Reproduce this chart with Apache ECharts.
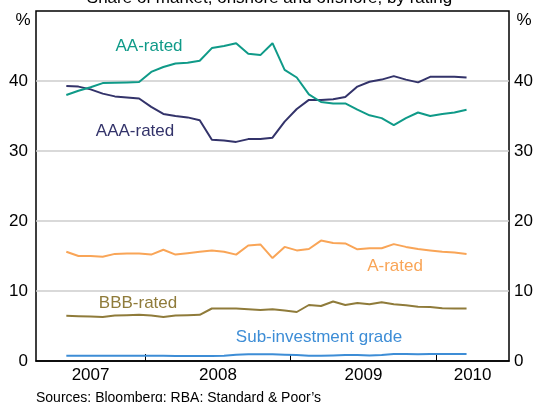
<!DOCTYPE html>
<html>
<head>
<meta charset="utf-8">
<script src="https://cdn.jsdelivr.net/npm/echarts@6/dist/echarts.min.js"></script>
<style>
html,body{margin:0;padding:0;background:#fff;}
#chart{width:539px;height:402px;}
</style>
</head>
<body>
<div id="chart"></div>
<script>
// Monthly observations
var months = ['2007-06','2007-07','2007-08','2007-09','2007-10','2007-11','2007-12',
  '2008-01','2008-02','2008-03','2008-04','2008-05','2008-06','2008-07','2008-08','2008-09','2008-10','2008-11','2008-12',
  '2009-01','2009-02','2009-03','2009-04','2009-05','2009-06','2009-07','2009-08','2009-09','2009-10','2009-11','2009-12',
  '2010-01','2010-02','2010-03'];
var aaRated  = [38.0,38.6,39.1,39.7,39.75,39.8,39.85,41.3,42.0,42.5,42.6,42.9,44.7,45.0,45.4,43.9,43.7,45.4,41.6,40.5,38.1,37.0,36.8,36.8,35.9,35.1,34.7,33.7,34.7,35.5,35.0,35.3,35.5,35.9];
var aaaRated = [39.3,39.2,38.8,38.2,37.8,37.65,37.5,36.3,35.3,35.0,34.8,34.4,31.6,31.5,31.3,31.7,31.7,31.9,34.2,36.0,37.3,37.3,37.4,37.7,39.2,39.9,40.2,40.7,40.2,39.8,40.6,40.6,40.6,40.5];
var aRated   = [15.6,15.0,15.0,14.9,15.3,15.35,15.35,15.2,15.9,15.2,15.4,15.6,15.8,15.6,15.2,16.5,16.65,14.7,16.3,15.8,16.0,17.2,16.85,16.8,15.95,16.1,16.1,16.7,16.3,16.0,15.8,15.6,15.5,15.3];
var bbbRated = [6.45,6.4,6.35,6.3,6.5,6.55,6.6,6.5,6.3,6.5,6.55,6.6,7.5,7.5,7.5,7.4,7.3,7.4,7.2,7.0,8.0,7.85,8.5,8.0,8.3,8.1,8.4,8.1,7.95,7.75,7.7,7.55,7.5,7.5];
var subInv   = [0.75,0.75,0.75,0.75,0.75,0.75,0.75,0.75,0.75,0.7,0.7,0.7,0.7,0.75,0.9,0.95,0.95,0.95,0.9,0.85,0.75,0.75,0.8,0.85,0.85,0.8,0.85,1.0,1.0,0.95,1.0,1.0,1.0,1.0];
var yTicks = [0,10,20,30,40];
var yearTicks = [2008,2009,2010];
var yearLabelPos = [2007.625,2008.5,2009.5,2010.25];

var FONT = "'Liberation Sans', Arial, sans-serif";
function toYear(m){ var p = m.split('-'); return +p[0] + (+p[1] - 0.5)/12; }
function pts(vals){ return months.map(function(m,i){ return [toYear(m), vals[i]]; }); }

var colors = {aa:'#0f9a88', aaa:'#33336a', a:'#f9a557', bbb:'#8f7b3a', sub:'#3d8dd6'};

function mkSeries(name, vals, color){
  return {name:name, type:'line', data:pts(vals), showSymbol:false, symbol:'none',
    lineStyle:{color:color, width:2}, itemStyle:{color:color}, animation:false, z:3};
}

var chart = echarts.init(document.getElementById('chart'), null, {renderer:'canvas'});
var yAxisCommon = {
  type:'value', min:0, max:50, interval:10,
  axisLine:{show:false}, axisTick:{show:false},
  axisLabel:{fontSize:17, fontFamily:FONT, color:'#000',
    formatter:function(v){ return yTicks.indexOf(v) >= 0 ? String(v) : ''; }}
};
chart.setOption({
  animation:false,
  backgroundColor:'#fff',
  grid:{left:36, right:30, top:11, bottom:41, show:true, borderColor:'#000', borderWidth:1.5, backgroundColor:'transparent', containLabel:false},
  xAxis:{
    type:'value', min:2007.25, max:2010.5,
    axisLine:{show:true, lineStyle:{color:'#000', width:1.5}},
    axisTick:{show:true, inside:true, length:7, customValues:yearTicks, lineStyle:{color:'#000', width:1}},
    axisLabel:{show:true, customValues:yearLabelPos, margin:6, fontSize:17, fontFamily:FONT, color:'#000',
      formatter:function(v){ return String(Math.floor(v)); }},
    splitLine:{show:false}
  },
  yAxis:[
    Object.assign({}, yAxisCommon, {position:'left',
      axisLabel:Object.assign({}, yAxisCommon.axisLabel, {margin:8}),
      splitLine:{show:true, showMinLine:false, showMaxLine:false, lineStyle:{color:'#cccccc', width:1.5}}}),
    Object.assign({}, yAxisCommon, {position:'right',
      axisLabel:Object.assign({}, yAxisCommon.axisLabel, {margin:5}),
      splitLine:{show:false}})
  ],
  series:[
    mkSeries('Sub-investment grade', subInv, colors.sub),
    mkSeries('BBB-rated', bbbRated, colors.bbb),
    mkSeries('A-rated', aRated, colors.a),
    mkSeries('AAA-rated', aaaRated, colors.aaa),
    mkSeries('AA-rated', aaRated, colors.aa)
  ],
  graphic:[
    {type:'text', left:'center', top:-10, style:{text:'Share of market, onshore and offshore, by rating', font:'17px '+FONT, fill:'#000'}},
    {type:'text', x:23, y:20, style:{text:'%', font:'17px '+FONT, fill:'#000', align:'center', verticalAlign:'middle'}},
    {type:'text', x:524, y:20, style:{text:'%', font:'17px '+FONT, fill:'#000', align:'center', verticalAlign:'middle'}},
    {type:'text', x:149, y:46, style:{text:'AA-rated', font:'17px '+FONT, fill:colors.aa, align:'center', verticalAlign:'middle'}},
    {type:'text', x:135, y:131, style:{text:'AAA-rated', font:'17px '+FONT, fill:colors.aaa, align:'center', verticalAlign:'middle'}},
    {type:'text', x:395, y:266, style:{text:'A-rated', font:'17px '+FONT, fill:colors.a, align:'center', verticalAlign:'middle'}},
    {type:'text', x:138, y:303, style:{text:'BBB-rated', font:'17px '+FONT, fill:colors.bbb, align:'center', verticalAlign:'middle'}},
    {type:'text', x:319, y:337.5, style:{text:'Sub-investment grade', font:'17px '+FONT, fill:colors.sub, align:'center', verticalAlign:'middle'}},
    {type:'text', x:36, y:398, style:{text:'Sources: Bloomberg; RBA; Standard & Poor\u2019s', font:'14px '+FONT, fill:'#000', align:'left', verticalAlign:'middle'}}
  ]
});
</script>
</body>
</html>
